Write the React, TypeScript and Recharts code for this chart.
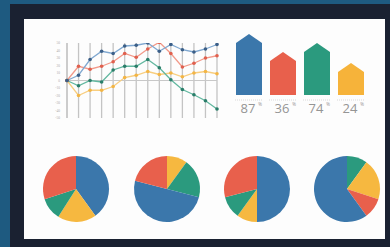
import React from 'react';
import { LineChart, Line, XAxis, YAxis, CartesianGrid, ReferenceLine, BarChart, Bar, PieChart, Pie, Cell } from 'recharts';

const lineCategories = ['1','2','3','4','5','6','7','8','9','10','11','12','13','14'];
const blueLine = [0, 7, 28, 39, 36, 46, 47, 50, 39, 48, 41, 38, 42, 48];
const redLine = [0, 19, 15, 19, 25, 36, 31, 42, 51, 36, 18, 23, 30, 33];
const greenLine = [0, -7, 0, -2, 14, 19, 19, 28, 17, 1, -12, -19, -27, -38];
const orangeLine = [0, -20, -13, -13, -8, 4, 7, 12, 8, 10, 5, 10, 12, 9];
const yTicks = [50, 40, 30, 20, 10, 0, -10, -20, -30, -40, -50];

const barLabels = ['87', '36', '74', '24'];
const barHeights = [61, 43, 52, 32];
const barColors = ['#3b77ab', '#e8604c', '#2b9a7e', '#f6b33a'];

const pie1 = [40, 19, 11, 30];
const pie1Colors = ['#3b77ab', '#f6b840', '#2b9a7e', '#e8604c'];
const pie2 = [10, 19, 50, 21];
const pie2Colors = ['#f6b840', '#2b9a7e', '#3b77ab', '#e8604c'];
const pie3 = [50, 10, 11, 29];
const pie3Colors = ['#3b77ab', '#f6b840', '#2b9a7e', '#e8604c'];
const pie4 = [10, 20, 10, 60];
const pie4Colors = ['#2b9a7e', '#f6b840', '#e8604c', '#3b77ab'];

const lineData = lineCategories.map((c, i) => ({
  c, blue: blueLine[i], red: redLine[i], green: greenLine[i], orange: orangeLine[i],
}));
const barData = barLabels.map((l, i) => ({ label: l, h: barHeights[i] }));
const toPie = (arr: number[]) => arr.map((v, i) => ({ name: String(i), value: v }));

const House = (props: any) => {
  const { x, y, width, height, fill } = props;
  const roof = 9;
  const d = `M${x},${y + roof} L${x + width / 2},${y} L${x + width},${y + roof} L${x + width},${y + height} L${x},${y + height} Z`;
  return <path d={d} fill={fill} />;
};

const BarTick = (props: any) => {
  const { x, y, payload } = props;
  return (
    <g>
      <line x1={x - 14} x2={x + 14} y1={y + 5} y2={y + 5} stroke="#cfcfcf" strokeWidth={0.8} strokeDasharray="1 1" />
      <text x={x - 1} y={y + 18} textAnchor="middle" fill="#959595" fontSize={13} fontFamily="'Open Sans', sans-serif">
        {payload.value}
      </text>
      <text x={x + 11} y={y + 11} textAnchor="middle" fill="#959595" fontSize={4.5} fontFamily="'Open Sans', sans-serif">%</text>
    </g>
  );
};

const dotFor = (fill: string) => ({ r: 1.8, fill, stroke: fill, strokeWidth: 0 });

export default function App() {
  return (
    <div style={{ position: 'absolute', left: 0, top: 0, width: 390, height: 247, background: '#1e5a80', overflow: 'hidden' }}>
      <div style={{ position: 'absolute', left: 10, top: 4, width: 390, height: 250, background: '#1a2131' }} />
      <div style={{ position: 'absolute', left: 24, top: 19, width: 361, height: 220, background: '#fdfdfd' }} />
      <div style={{ position: 'absolute', left: 55, top: 38 }}>
        <LineChart width={167} height={85} data={lineData} margin={{ top: 5, right: 5, bottom: 5, left: 0 }}>
          <CartesianGrid horizontal={false} stroke="#c4c4c4" strokeWidth={1.3} />
          <XAxis dataKey="c" hide interval={0} />
          <YAxis width={12} domain={[-50, 50]} ticks={yTicks} allowDataOverflow interval={0}
            axisLine={{ stroke: '#c0c0c0' }} tickLine={false} tickMargin={1}
            tick={{ fontSize: 3.5, fill: '#aaaaaa' }} />
          <ReferenceLine y={0} stroke="#c8c8c8" strokeWidth={1} />
          <Line dataKey="orange" stroke="#f8ce80" strokeWidth={1.3} dot={dotFor('#f3b544')} isAnimationActive={false} />
          <Line dataKey="green" stroke="#63b8a0" strokeWidth={1.3} dot={dotFor('#2a7e6a')} isAnimationActive={false} />
          <Line dataKey="red" stroke="#f29a8a" strokeWidth={1.3} dot={dotFor('#e0604e')} isAnimationActive={false} />
          <Line dataKey="blue" stroke="#80a8d0" strokeWidth={1.3} dot={dotFor('#3b5f88')} isAnimationActive={false} />
        </LineChart>
      </div>
      <div style={{ position: 'absolute', left: 232, top: 30 }}>
        <BarChart width={136} height={90} data={barData} margin={{ top: 4, right: 0, bottom: 0, left: 0 }} barSize={26}>
          <XAxis dataKey="label" axisLine={false} tickLine={false} tickSize={0} tickMargin={0} height={25} interval={0} tick={<BarTick />} />
          <YAxis hide domain={[0, 61]} />
          <Bar dataKey="h" shape={<House />} isAnimationActive={false}>
            {barData.map((_, i) => <Cell key={i} fill={barColors[i]} />)}
          </Bar>
        </BarChart>
      </div>
      <div style={{ position: 'absolute', left: 0, top: 140 }}>
        <PieChart width={390} height={90}>
          {[
            { d: pie1, c: pie1Colors, cx: 71 },
            { d: pie2, c: pie2Colors, cx: 162 },
            { d: pie3, c: pie3Colors, cx: 252 },
            { d: pie4, c: pie4Colors, cx: 342 },
          ].map((p, k) => (
            <Pie key={k} data={toPie(p.d)} dataKey="value" cx={p.cx} cy={44} outerRadius={33} innerRadius={0}
              startAngle={90} endAngle={-270} stroke="none" isAnimationActive={false}>
              {p.d.map((_, i) => <Cell key={i} fill={p.c[i]} />)}
            </Pie>
          ))}
        </PieChart>
      </div>
    </div>
  );
}
